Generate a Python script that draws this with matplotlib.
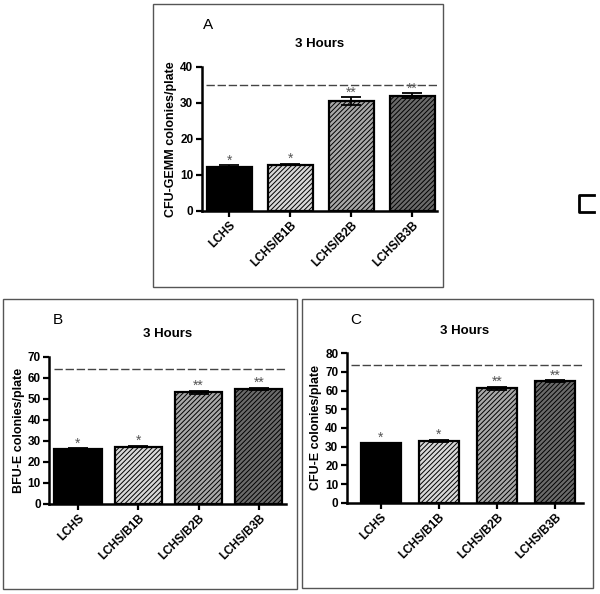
import numpy as np
import matplotlib.pyplot as plt
from matplotlib.patches import Rectangle
from matplotlib.lines import Line2D

plt.rcParams['font.family'] = ['Liberation Sans', 'DejaVu Sans']
plt.rcParams['hatch.linewidth'] = 0.7

groups = ['LCHS', 'LCHS/B1B', 'LCHS/B2B', 'LCHS/B3B']

cfu_gemm = [12.1, 12.8, 30.5, 31.9]
cfu_gemm_err = [0.5, 0.2, 1.0, 0.7]
cfu_gemm_ref = 35

bfu_e = [26.1, 27.3, 53.2, 54.7]
bfu_e_err = [0.3, 0.3, 0.7, 0.6]
bfu_e_ref = 64

cfu_e = [31.8, 33.2, 61.3, 65.0]
cfu_e_err = [0.3, 0.6, 0.8, 0.6]
cfu_e_ref = 73.7

stars = ['*', '*', '**', '**']

# bar styles (face colour, hatch)
faces = ['#000000', '#d8d8d8', '#a8a8a8', '#6a6a6a']
hatches = [None, '///////', '///////', '///////']

fig = plt.figure(figsize=(6, 5.94), dpi=100)
W, H = 600, 594


def px_axes(left, top, right, bottom):
    return fig.add_axes([left / W, 1 - bottom / H, (right - left) / W, (bottom - top) / H])


def frame(x0, y0, x1, y1):
    fig.add_artist(Rectangle((x0 / W, 1 - y1 / H), (x1 - x0) / W, (y1 - y0) / H,
                             transform=fig.transFigure, fill=False,
                             edgecolor='#555555', linewidth=1.0))


def panel(ax, vals, errs, ref, ymax, ystep, ylabel, xlim, width):
    x = np.arange(len(groups))
    for i in range(len(groups)):
        ax.bar(x[i], vals[i], width=width, color=faces[i], edgecolor='black',
               hatch=hatches[i], linewidth=1.6, zorder=2)
    ax.errorbar(x, vals, yerr=errs, fmt='none', ecolor='black',
                elinewidth=1.3, capsize=7, capthick=1.3, zorder=3)
    for i in range(len(groups)):
        ax.annotate(stars[i], (x[i], vals[i] + errs[i]), xytext=(0, 0.5),
                    textcoords='offset points', ha='center', va='baseline',
                    fontsize=10, color='#555555')
    ax.axhline(ref, color='#444444', linestyle=(0, (6, 2)), linewidth=1.0,
               xmin=0.02, xmax=1.0, zorder=1)
    ax.set_xlim(*xlim)
    ax.set_ylim(0, ymax)
    ax.set_yticks(np.arange(0, ymax + 1, ystep))
    ax.set_xticks(x)
    ax.set_xticklabels(groups, rotation=45, ha='right', rotation_mode='anchor',
                       fontsize=8.5, fontweight='bold')
    for lab in ax.get_yticklabels():
        lab.set_fontweight('bold')
        lab.set_fontsize(8.5)
    ax.set_ylabel(ylabel, fontsize=9, fontweight='bold', labelpad=2)
    ax.spines['top'].set_visible(False)
    ax.spines['right'].set_visible(False)
    ax.spines['left'].set_linewidth(1.8)
    ax.spines['bottom'].set_linewidth(1.8)
    ax.tick_params(axis='both', width=1.6, length=4, pad=2)
    ax.set_title('3 Hours', fontsize=9.5, fontweight='bold', pad=14)


# Panel A
frame(153, 4, 443, 287)
axA = px_axes(201.7, 66.7, 436.7, 210.7)
panel(axA, cfu_gemm, cfu_gemm_err, cfu_gemm_ref, 40, 10,
      'CFU-GEMM colonies/plate', (-0.45, 3.40), 0.74)
fig.text(203 / W, 1 - 25 / H, 'A', fontsize=11, va='center', ha='left')

# Panel B
frame(3, 299, 297, 589)
axB = px_axes(49.3, 356.7, 286, 504)
panel(axB, bfu_e, bfu_e_err, bfu_e_ref, 70, 10,
      'BFU-E colonies/plate', (-0.476, 3.45), 0.78)
fig.text(53 / W, 1 - 320 / H, 'B', fontsize=11, va='center', ha='left')

# Panel C
frame(302, 299, 593, 588)
axC = px_axes(346.7, 353.3, 583.3, 502.7)
panel(axC, cfu_e, cfu_e_err, cfu_e_ref, 80, 10,
      'CFU-E colonies/plate', (-0.59, 3.49), 0.69)
fig.text(350 / W, 1 - 320 / H, 'C', fontsize=11, va='center', ha='left')

# stray bracket on the right edge
fig.add_artist(Line2D([594 / W, 579 / W, 579 / W, 594 / W],
                      [1 - 195 / H, 1 - 195 / H, 1 - 212 / H, 1 - 212 / H],
                      transform=fig.transFigure, color='black', linewidth=2))

fig.savefig('out.png', dpi=100)
